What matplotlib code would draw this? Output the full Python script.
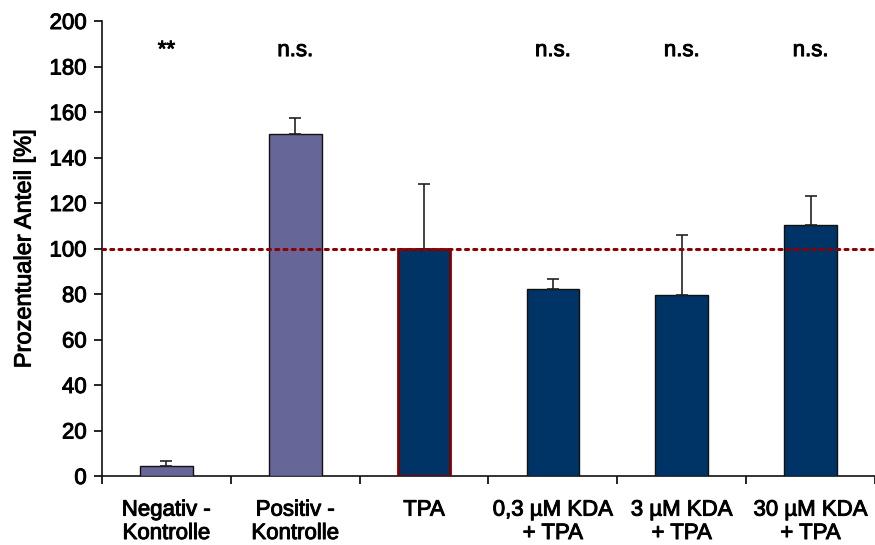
import matplotlib
matplotlib.use("Agg")
import matplotlib.pyplot as plt
import matplotlib.patheffects as pe
import numpy as np

categories = ["Negativ -\nKontrolle", "Positiv -\nKontrolle", "TPA",
              "0,3 µM KDA\n+ TPA", "3 µM KDA\n+ TPA", "30 µM KDA\n+ TPA"]
values = [4.5, 150.5, 100.0, 82.2, 79.5, 110.2]
errors = [2.0, 7.0, 28.2, 4.5, 26.4, 13.0]
signif = ["**", "n.s.", "", "n.s.", "n.s.", "n.s."]
yticks = [0, 20, 40, 60, 80, 100, 120, 140, 160, 180, 200]

plt.rcParams['font.family'] = ['Liberation Sans', 'DejaVu Sans']
heavy = [pe.withStroke(linewidth=0.7, foreground="black")]

fig = plt.figure(figsize=(8.75, 5.45), dpi=100)
ax = fig.add_axes([102/875, (545-476)/545, 1 - 102/875, (476-21)/545])

x = np.arange(len(categories))
fills = ["#666699", "#666699", "#003366", "#003366", "#003366", "#003366"]
edges = ["#111111", "#111111", "#800000", "#111111", "#111111", "#111111"]
lws = [1.0, 1.0, 2.0, 1.0, 1.0, 1.0]

ax.axhline(100, color="#8B0000", linestyle=(0, (1, 1.7)), linewidth=2.2,
           dash_capstyle="round", zorder=5)

for i in range(len(categories)):
    ax.bar(x[i], values[i], width=0.41, color=fills[i], edgecolor=edges[i],
           linewidth=lws[i], zorder=3)
    ax.errorbar(x[i], values[i], yerr=[[0], [errors[i]]], fmt="none",
                ecolor="#222222", elinewidth=1.2, capsize=4.5, capthick=1.2,
                zorder=4)
    if signif[i]:
        ax.text(x[i], 187, signif[i], ha="center", va="center",
                fontsize=16, path_effects=heavy)

ax.set_xlim(-0.5, -0.5 + (875 - 102) / 131)
ax.set_ylim(0, 200)
ax.set_yticks(yticks)
ax.set_xticks(x)
ax.set_xticklabels(categories, fontsize=16, linespacing=1.15)
ax.set_xticks(np.arange(len(categories) + 1) - 0.5, minor=True)
ax.tick_params(axis="x", which="major", length=0, pad=17)
ax.tick_params(axis="x", which="minor", length=6, direction="out", width=1.2)
ax.tick_params(axis="y", length=6, direction="out", width=1.2, labelsize=16, pad=5)
ax.set_ylabel("Prozentualer Anteil [%]", fontsize=17, labelpad=10)

for lab in ax.get_xticklabels() + ax.get_yticklabels() + [ax.yaxis.label]:
    lab.set_path_effects(heavy)

for s in ["top", "right"]:
    ax.spines[s].set_visible(False)
for s in ["left", "bottom"]:
    ax.spines[s].set_linewidth(1.2)
    ax.spines[s].set_color("#111111")

fig.savefig("out.png", dpi=100)
